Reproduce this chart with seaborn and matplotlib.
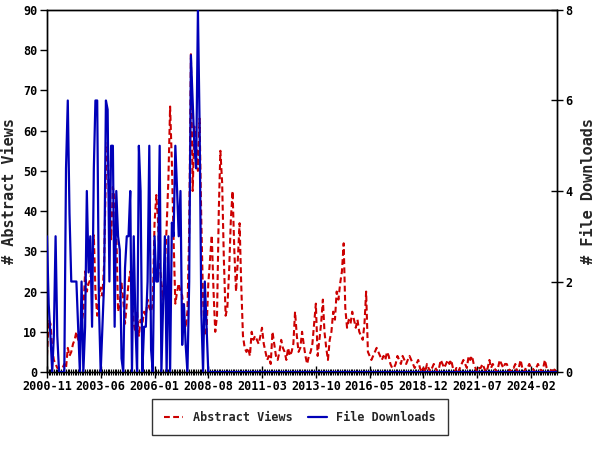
import pandas as pd
import matplotlib
matplotlib.use('Agg')
import matplotlib.pyplot as plt
import seaborn as sns

# monthly values, 2000-11 .. 2025-05
months = pd.date_range('2000-11-01', periods=295, freq='MS')

abstract_views = [4, 13, 12, 6, 3, 2, 1, 1, 1, 1, 2, 1, 6, 4, 5, 7, 8, 10, 8, 9,
                  12, 15, 25, 20, 22, 23, 27, 34, 20, 14, 18, 21, 19, 27, 50, 57, 40, 33, 46, 43,
                  35, 15, 17, 22, 18, 12,
                  17, 22, 25, 19, 12, 10, 15, 9, 13, 12, 15, 14, 18, 16, 15, 17, 37, 44, 38, 27,
                  22, 18, 26, 36, 48, 66, 52, 33, 17, 20, 22, 20, 19, 14, 11, 15, 35, 79, 45, 61,
                  57, 50, 63, 37, 18, 9, 10, 22, 28, 34, 20, 10, 14, 40, 55,
                  47, 28, 14, 16, 25, 38, 45, 30, 20, 28, 37, 22, 9, 6, 5, 6, 4, 10, 8, 9,
                  8, 7, 9, 11, 7, 5, 3, 4, 2, 10, 7, 4, 3, 5, 8, 6, 5, 3, 6, 4,
                  5, 7, 15, 9, 5, 6, 10, 7, 4, 2, 4, 5, 7, 12, 17, 4, 8, 12, 18, 10,
                  6, 3, 8, 10, 15, 13, 20, 18, 22, 25, 32, 16, 11, 13, 12, 15, 13, 11, 13, 10,
                  9, 8, 12, 20, 5, 4, 3, 4, 5, 6, 5, 4, 3, 4, 3, 5, 4, 2, 1, 1,
                  2, 4, 3, 2,
                  4, 3, 2, 3, 4, 3, 2, 1, 2, 3, 1, 0, 1, 0, 2, 1, 0, 1, 2, 1,
                  0, 1, 3, 2, 1, 2, 3, 2, 3, 1, 0, 1, 0, 1, 2, 3, 2, 1, 4, 3,
                  4, 2, 1, 0, 1, 1, 2, 1, 0, 1, 3, 1, 2, 1, 0, 1, 3, 2, 1, 2,
                  2, 1, 0, 1, 1, 2, 0, 1, 3, 1, 0, 1, 1, 2, 1, 1, 0, 1, 2, 1,
                  0, 1, 3, 1, 0, 0, 1, 0, 1, 0]

downloads_early = [3, 1.5, 0.8, 0, 0.8, 3, 0.8, 0, 0, 0, 0, 4.5, 6, 3.5, 2, 2, 2, 2, 1, 0,
                   2, 0, 1, 4, 2.2, 3, 1, 4.5, 6, 6, 1.5, 0, 1, 2, 6, 5.8, 2, 5, 5, 1,
                   4, 3, 2.7, 0.3, 0, 2.3, 3, 3, 4, 0, 3, 1, 0, 5, 4, 0, 1, 1, 2, 5,
                   0.5, 0, 3, 2, 2, 5, 0, 1.5, 3, 0, 3, 0, 3.3, 3, 5, 4, 3, 4, 0.6, 1.5,
                   0.6, 0, 2, 7, 6, 5, 4.5, 8, 5.5, 1.3, 0, 2, 1]
# no downloads after late 2008
file_downloads = downloads_early + [0] * (len(months) - len(downloads_early))

df = pd.DataFrame({'Month': months,
                   'Abstract Views': abstract_views,
                   'File Downloads': file_downloads})

sns.set_style('white')
plt.rcParams['font.family'] = ['DejaVu Sans Mono']
plt.rcParams['font.weight'] = 'bold'
plt.rcParams['xtick.bottom'] = True
plt.rcParams['ytick.left'] = True
plt.rcParams['ytick.right'] = True
plt.rcParams['xtick.color'] = 'black'
plt.rcParams['ytick.color'] = 'black'

red = '#cc0000'
blue = '#0000b8'

fig = plt.figure(figsize=(6, 4.5), dpi=100)
ax = fig.add_axes([0.0783, 0.1733, 0.85, 0.8045])
ax2 = ax.twinx()

sns.lineplot(data=df, x='Month', y='Abstract Views', ax=ax, color=red,
             linewidth=1.5, zorder=2)
ax.lines[0].set_dashes((2.8, 1.6))
sns.lineplot(data=df, x='Month', y='File Downloads', ax=ax2, color=blue,
             linewidth=1.6, zorder=3)

ax.set_xlim(months[0], months[-1])
ax.set_ylim(0, 90)
ax2.set_ylim(0, 8)
ax.set_yticks(range(0, 91, 10))
ax2.set_yticks(range(0, 9, 2))

major = months[::31]
ax.set_xticks(major)
ax.set_xticklabels([d.strftime('%Y-%m') for d in major], fontsize=8.5, fontweight='bold')
ax.set_xticks(months, minor=True)
ax.tick_params(axis='x', which='major', bottom=True, direction='inout', length=8, width=1, pad=2)
ax.tick_params(axis='x', which='minor', bottom=True, direction='inout', length=4, width=0.8)
ax.tick_params(axis='y', left=True, direction='out', length=5, width=1, labelsize=8.5, pad=2)
ax2.tick_params(axis='y', right=True, direction='inout', length=8, width=1, labelsize=8.5, pad=2)
for lab in ax.get_yticklabels() + ax2.get_yticklabels():
    lab.set_fontweight('bold')

ax.set_xlabel('')
ax.set_ylabel('# Abstract Views', fontsize=11, fontweight='bold', labelpad=4)
ax2.set_ylabel('# File Downloads', fontsize=11, fontweight='bold', labelpad=6)

for a in (ax, ax2):
    for s in a.spines.values():
        s.set_color('black')
        s.set_linewidth(1)

handles = [ax.lines[0], ax2.lines[0]]
fig.legend(handles, ['Abstract Views', 'File Downloads'], loc='center',
           bbox_to_anchor=(0.5, 0.073), ncol=2, frameon=True, fancybox=False,
           edgecolor='black', handlelength=1.6, columnspacing=1.3,
           borderpad=1.0, prop={'weight': 'bold', 'size': 8.5})

fig.savefig('out.png', dpi=100)
